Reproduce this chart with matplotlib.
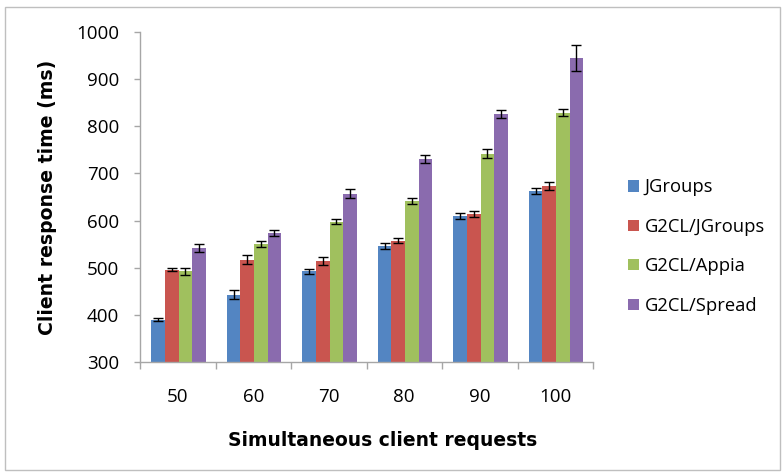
import matplotlib
matplotlib.use("Agg")
import matplotlib.pyplot as plt
import numpy as np
from matplotlib.patches import Rectangle

categories = ["50", "60", "70", "80", "90", "100"]
series_names = ["JGroups", "G2CL/JGroups", "G2CL/Appia", "G2CL/Spread"]
jgroups = [390, 443, 492, 546, 610, 663]
g2cl_jgroups = [496, 517, 514, 557, 614, 673]
g2cl_appia = [492, 550, 598, 642, 742, 829]
g2cl_spread = [542, 574, 657, 731, 826, 945]
jgroups_err = [4, 9, 5, 6, 6, 6]
g2cl_jgroups_err = [4, 9, 8, 5, 6, 9]
g2cl_appia_err = [7, 7, 6, 6, 9, 8]
g2cl_spread_err = [8, 6, 10, 9, 9, 27]

values = [jgroups, g2cl_jgroups, g2cl_appia, g2cl_spread]
errors = [jgroups_err, g2cl_jgroups_err, g2cl_appia_err, g2cl_spread_err]
colors = ["#5385C2", "#C9554F", "#A0C05E", "#8A6BAE"]

fig = plt.figure(figsize=(7.84, 4.73), dpi=100)
fig.patches.append(Rectangle((5/784, 3/473), 775/784, 463/473, transform=fig.transFigure,
                             fill=False, edgecolor="#BFBFBF", linewidth=1))
ax = fig.add_axes([140/784, 1-362/473, (593-140)/784, (362-32)/473])

x = np.arange(len(categories))
w = 0.18
for i, (vals, errs, c, name) in enumerate(zip(values, errors, colors, series_names)):
    pos = x + (i - 1.5) * w + 0.01
    ax.bar(pos, vals, width=w, color=c, label=name, zorder=2)
    ax.errorbar(pos, vals, yerr=errs, fmt="none", ecolor="black", elinewidth=1,
                capsize=3.5, capthick=1, zorder=3)

ax.set_ylim(300, 1000)
ax.set_xlim(-0.5, len(categories) - 0.5)
ax.set_yticks(range(300, 1001, 100))
ax.set_xticks(x)
ax.set_xticklabels(categories)
ax.set_xticks(np.arange(-0.5, len(categories), 1), minor=True)
ax.tick_params(axis="x", which="major", length=0, pad=19, labelsize=13.5)
ax.tick_params(axis="x", which="minor", length=5, color="#A6A6A6", width=1)
ax.tick_params(axis="y", length=4, color="#A6A6A6", width=1, pad=11, labelsize=13.5)
for lab in ax.get_xticklabels() + ax.get_yticklabels():
    lab.set_fontfamily("Open Sans")
for s in ["top", "right"]:
    ax.spines[s].set_visible(False)
for s in ["left", "bottom"]:
    ax.spines[s].set_color("#A6A6A6")
    ax.spines[s].set_linewidth(1)

ax.set_ylabel("Client response time (ms)", fontsize=13.6, fontweight="bold",
              family="DejaVu Sans", labelpad=14)
ax.set_xlabel("Simultaneous client requests", fontsize=13.5, fontweight="bold",
              family="DejaVu Sans", labelpad=18)
ax.xaxis.label.set_x((383 - 140) / 453)

leg = ax.legend(loc="upper left", bbox_to_anchor=(628/784, 1-178.5/473),
                bbox_transform=fig.transFigure, borderaxespad=0, borderpad=0,
                frameon=False, prop={"family": "Open Sans", "size": 13.2},
                handlelength=0.62, handleheight=0.55, handletextpad=0.3,
                labelspacing=1.17)

fig.savefig("out.png", dpi=100)
